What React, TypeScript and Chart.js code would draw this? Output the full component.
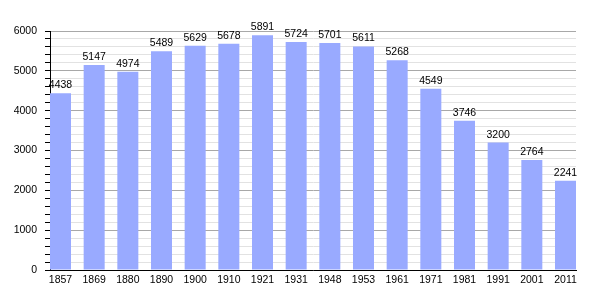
import React, { useEffect, useRef } from "react";
import { Chart, registerables } from "chart.js";

Chart.register(...registerables);

const years = ["1857", "1869", "1880", "1890", "1900", "1910", "1921", "1931", "1948", "1953", "1961", "1971", "1981", "1991", "2001", "2011"];
const population = [4438, 5147, 4974, 5489, 5629, 5678, 5891, 5724, 5701, 5611, 5268, 4549, 3746, 3200, 2764, 2241];
const yMax = 6000;
const yMajorStep = 1000;
const yMinorStep = 200;

const FONT = "'Liberation Sans', Arial, sans-serif";
const BAR_FRACTION = 0.624;

const valueLabels = {
  id: "valueLabels",
  afterDatasetsDraw(chart: any) {
    const ctx = chart.ctx;
    const meta = chart.getDatasetMeta(0);
    ctx.save();
    ctx.font = `10.5px ${FONT}`;
    ctx.fillStyle = "#000";
    ctx.textAlign = "center";
    ctx.textBaseline = "alphabetic";
    meta.data.forEach((bar: any, i: number) => {
      ctx.fillText(String(population[i]), bar.x, bar.y - 5);
    });
    ctx.restore();
  },
};

export default function App() {
  const ref = useRef<HTMLCanvasElement>(null);
  useEffect(() => {
    document.body.style.margin = "0";
    const half = BAR_FRACTION / 2;
    const chart = new Chart(ref.current!, {
      type: "bar",
      data: {
        datasets: [
          {
            data: population.map((v, i) => ({ x: i, y: v })),
            backgroundColor: "#99aaff",
            borderWidth: 0,
            categoryPercentage: 1,
            barPercentage: BAR_FRACTION,
          },
        ],
      },
      options: {
        responsive: false,
        animation: false,
        events: [],
        layout: { padding: { left: 0, right: 29, top: 31, bottom: 0 } },
        plugins: { legend: { display: false }, tooltip: { enabled: false } },
        scales: {
          x: {
            type: "linear",
            min: -half,
            max: years.length - 1 + half,
            offset: false,
            grid: { display: false, drawTicks: false },
            border: { display: true, color: "#000", width: 1 },
            afterBuildTicks: (scale: any) => {
              scale.ticks = years.map((_, i) => ({ value: i }));
            },
            afterFit: (scale: any) => {
              scale.height = 30;
            },
            ticks: {
              autoSkip: false,
              maxRotation: 0,
              padding: 4,
              color: "#000",
              font: { family: FONT, size: 10.5 },
              callback: (v: any) => years[v] ?? "",
            },
          },
          y: {
            min: 0,
            max: yMax,
            afterFit: (scale: any) => {
              scale.width = 50;
            },
            border: { display: true, color: "#000", width: 1 },
            grid: {
              color: (c: any) => (c.tick && c.tick.value % yMajorStep === 0 ? "#a8a8a8" : "#e2e2e2"),
              tickColor: "#000",
              tickLength: 5,
              lineWidth: 1,
            },
            ticks: {
              stepSize: yMinorStep,
              autoSkip: false,
              padding: 8,
              color: "#000",
              font: { family: FONT, size: 10.5 },
              callback: (v: any) => (v % yMajorStep === 0 ? String(v) : ""),
            },
          },
        },
      },
      plugins: [valueLabels],
    });
    return () => chart.destroy();
  }, []);
  return (
    <div style={{ position: "absolute", left: 0, top: 0, width: 605, height: 300, background: "#fff" }}>
      <canvas ref={ref} width={605} height={300} />
    </div>
  );
}
